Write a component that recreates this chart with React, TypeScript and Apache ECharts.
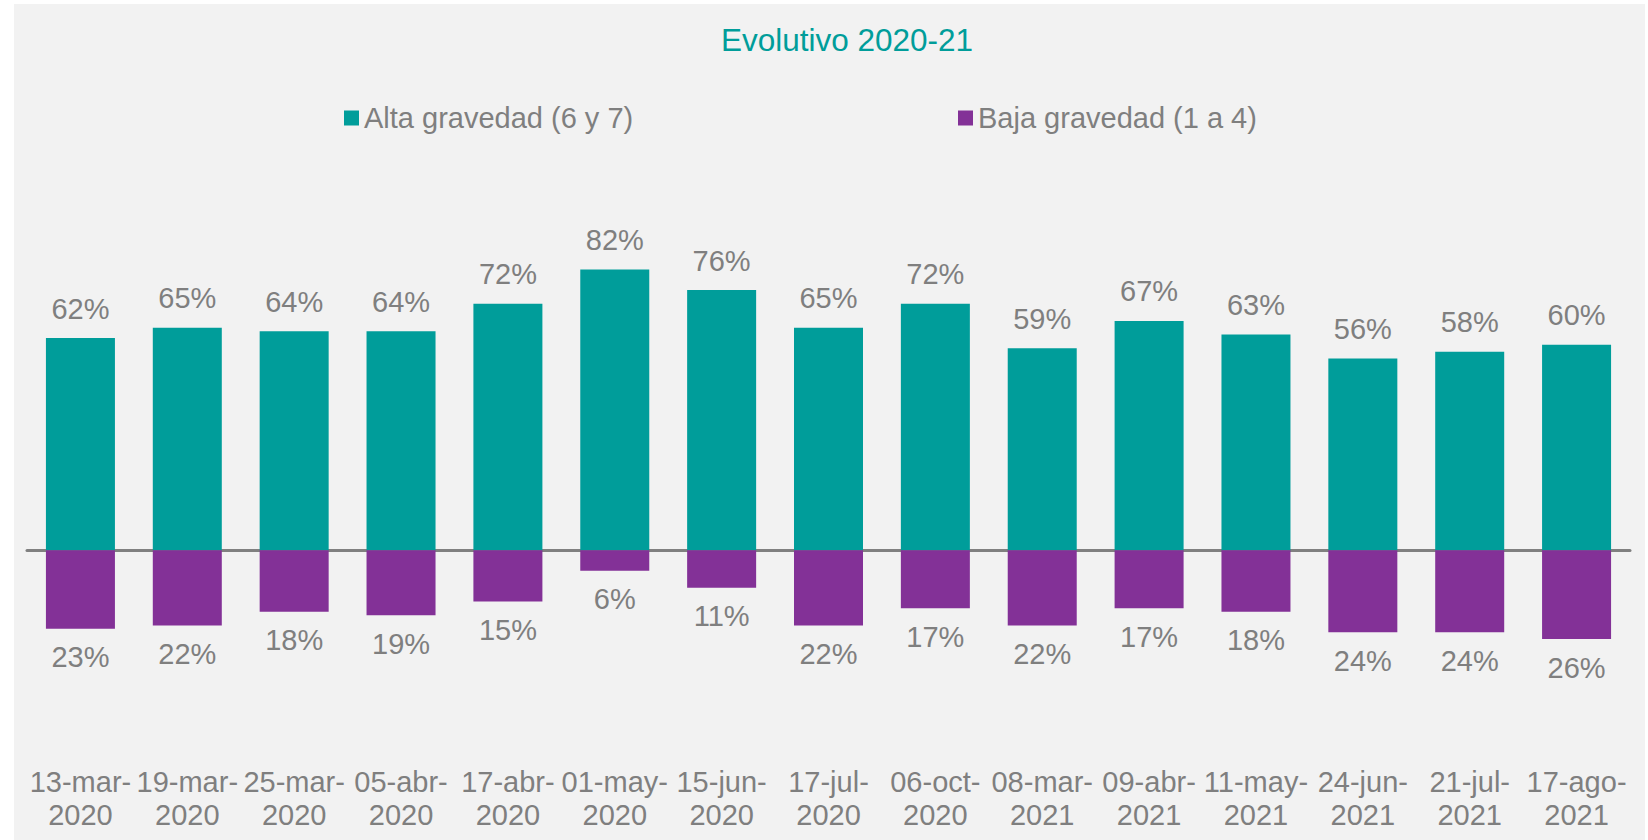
import React, { useEffect, useRef } from "react";
import * as echarts from "echarts";

const categories = [
  "13-mar-\n2020", "19-mar-\n2020", "25-mar-\n2020", "05-abr-\n2020", "17-abr-\n2020",
  "01-may-\n2020", "15-jun-\n2020", "17-jul-\n2020", "06-oct-\n2020", "08-mar-\n2021",
  "09-abr-\n2021", "11-may-\n2021", "24-jun-\n2021", "21-jul-\n2021", "17-ago-\n2021",
];
const altaGravedad = [62, 65, 64, 64, 72, 82, 76, 65, 72, 59, 67, 63, 56, 58, 60];
const bajaGravedad = [23, 22, 18, 19, 15, 6, 11, 22, 17, 22, 17, 18, 24, 24, 26];

const TEAL = "#009d9a";
const PURPLE = "#833197";
const GRAY = "#7f7f7f";
const FONT = "'Liberation Sans', Arial, Helvetica, sans-serif";

export default function App() {
  const ref = useRef<HTMLDivElement>(null);
  useEffect(() => {
    if (!ref.current) return;
    const chart = echarts.init(ref.current, undefined, { renderer: "svg" });
    chart.setOption({
      animation: false,
      backgroundColor: "transparent",
      textStyle: { fontFamily: FONT },
      graphic: [
        {
          type: "text",
          x: 847,
          y: 40,
          style: {
            text: "Evolutivo 2020-21",
            fontSize: 31.5,
            fontFamily: FONT,
            fill: TEAL,
            textAlign: "center",
            textVerticalAlign: "middle",
          },
        },
      ],
      legend: [
        {
          data: ["Alta gravedad (6 y 7)"],
          left: 344,
          top: 102,
          padding: 0,
          itemWidth: 15,
          itemHeight: 15,
          itemGap: 4,
          icon: "rect",
          textStyle: { color: GRAY, fontSize: 29, fontFamily: FONT, lineHeight: 32 },
        },
        {
          data: ["Baja gravedad (1 a 4)"],
          left: 958,
          top: 102,
          padding: 0,
          itemWidth: 15,
          itemHeight: 15,
          itemGap: 4,
          icon: "rect",
          textStyle: { color: GRAY, fontSize: 29, fontFamily: FONT, lineHeight: 32 },
        },
      ],
      grid: { left: 27, right: 18, top: 208, bottom: 153, containLabel: false, outerBoundsMode: "none" },
      xAxis: {
        type: "category",
        data: categories,
        axisTick: { show: false },
        axisLine: { onZero: true, lineStyle: { color: "#808080", width: 3 } },
        axisLabel: {
          interval: 0,
          color: GRAY,
          fontSize: 29,
          lineHeight: 33,
          margin: 78,
          fontFamily: FONT,
        },
      },
      yAxis: {
        type: "value",
        min: -40,
        max: 100,
        show: false,
        splitLine: { show: false },
      },
      series: [
        {
          name: "Alta gravedad (6 y 7)",
          type: "bar",
          stack: "total",
          barWidth: 69,
          data: altaGravedad,
          itemStyle: { color: TEAL },
          label: {
            show: true,
            position: "top",
            distance: 15,
            color: GRAY,
            fontSize: 29,
            fontFamily: FONT,
            formatter: (p: any) => `${Math.abs(p.value)}%`,
          },
        },
        {
          name: "Baja gravedad (1 a 4)",
          type: "bar",
          stack: "total",
          barWidth: 69,
          data: bajaGravedad.map((v) => -v),
          itemStyle: { color: PURPLE },
          label: {
            show: true,
            position: "bottom",
            distance: 14,
            color: GRAY,
            fontSize: 29,
            fontFamily: FONT,
            formatter: (p: any) => `${Math.abs(p.value)}%`,
          },
        },
      ],
    });
    return () => chart.dispose();
  }, []);

  return (
    <div style={{ position: "fixed", left: 0, top: 0, width: 1648, height: 840, background: "#ffffff" }}>
      <div style={{ position: "absolute", left: 14, top: 4, width: 1631, height: 836, background: "#f2f2f2" }} />
      <div ref={ref} style={{ position: "absolute", left: 0, top: 0, width: 1648, height: 840 }} />
    </div>
  );
}
